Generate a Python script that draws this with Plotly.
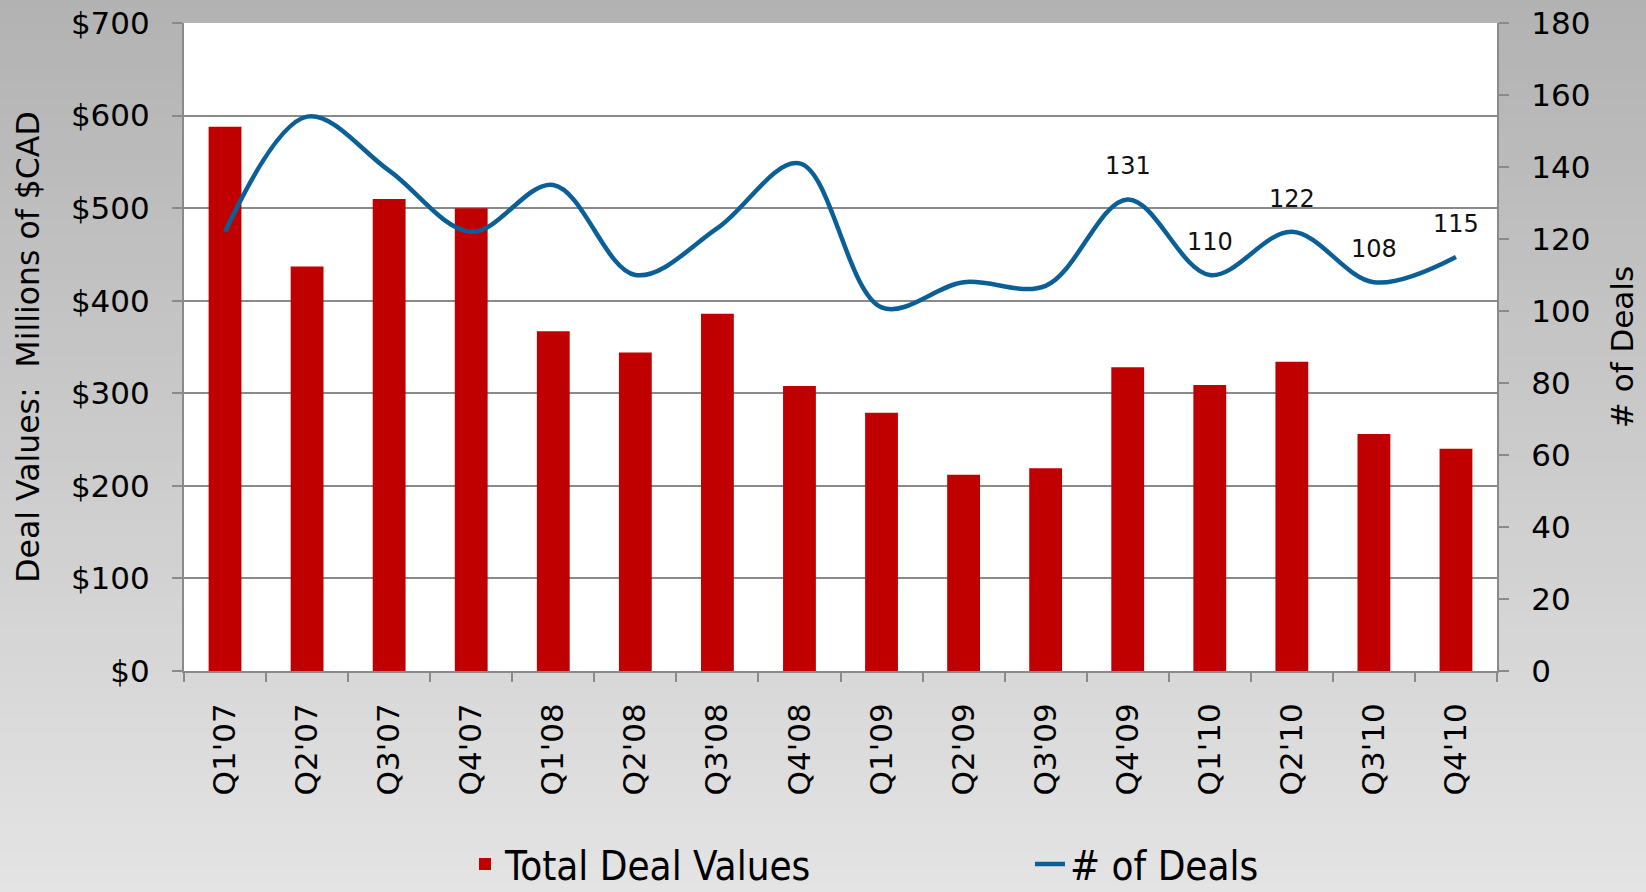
import plotly.graph_objects as go

quarters = ["Q1'07", "Q2'07", "Q3'07", "Q4'07", "Q1'08", "Q2'08", "Q3'08", "Q4'08",
            "Q1'09", "Q2'09", "Q3'09", "Q4'09", "Q1'10", "Q2'10", "Q3'10", "Q4'10"]
deal_values = [588, 437, 510, 500, 367, 344, 386, 308, 279, 212, 219, 328, 309, 334, 256, 240]
num_deals = [122, 154, 139, 122, 135, 110, 123, 141, 101, 108, 107, 131, 110, 122, 108, 115]
labelled_quarters = ["Q4'09", "Q1'10", "Q2'10", "Q3'10", "Q4'10"]

FONT = "DejaVu Sans, Verdana, sans-serif"
W, H = 1646, 892
ML, MR, MT, MB = 184, 149, 23, 221
pw, ph = W - ML - MR, H - MT - MB

fig = go.Figure()
fig.add_trace(go.Bar(x=quarters, y=deal_values, name="Total Deal Values",
                     marker=dict(color="#c00000", line=dict(width=0)), yaxis="y"))
fig.add_trace(go.Scatter(x=quarters, y=num_deals, name="# of Deals", mode="lines",
                         line=dict(color="#0b5f97", width=4.5, shape="spline", smoothing=1.0),
                         yaxis="y2"))

# data labels for the labelled quarters
for q in labelled_quarters:
    v = num_deals[quarters.index(q)]
    fig.add_annotation(x=q, y=v, xref="x", yref="y2", text=str(v), showarrow=False,
                       yanchor="middle", yshift=33, font=dict(family=FONT, size=24, color="#111"))

# background gradient bands (paper coordinates relative to plot area)
n = 60
x0p, x1p = -ML / pw - 0.01, (W - ML) / pw + 0.01
y_bottom, y_top = -MB / ph - 0.01, (H - MB) / ph + 0.01
c_top, c_bot = (178, 178, 178), (228, 228, 228)
for i in range(n):
    t = i / (n - 1)
    c = tuple(int(round(c_top[k] + (c_bot[k] - c_top[k]) * t)) for k in range(3))
    ya = y_top - (y_top - y_bottom) * i / n
    yb = y_top - (y_top - y_bottom) * (i + 1) / n
    fig.add_shape(type="rect", xref="paper", yref="paper", x0=x0p, x1=x1p, y0=yb - 0.002, y1=ya,
                  fillcolor="rgb(%d,%d,%d)" % c, line=dict(width=0), layer="below")
fig.add_shape(type="rect", xref="paper", yref="paper", x0=0, x1=1, y0=0, y1=1,
              fillcolor="white", line=dict(width=0), layer="below")

axis_gray = "#8a8a8a"
fig.update_layout(
    width=W, height=H,
    margin=dict(l=ML, r=MR, t=MT, b=MB, autoexpand=False),
    paper_bgcolor="#c8c8c8", plot_bgcolor="white",
    bargap=0.6,
    showlegend=True,
    legend=dict(orientation="h", x=0.214, xanchor="left", y=-0.298, yanchor="middle",
                bgcolor="rgba(0,0,0,0)", entrywidth=520,
                font=dict(family="Liberation Sans Narrow, DejaVu Sans Condensed, sans-serif",
                          size=40, color="#000")),
    xaxis=dict(tickangle=-90, tickson="boundaries", ticks="outside", ticklen=9, tickwidth=2,
               tickcolor=axis_gray, showline=True, linecolor=axis_gray, linewidth=2,
               showgrid=False, ticklabelstandoff=18, automargin=False,
               tickfont=dict(family=FONT, size=31, color="#000")),
    yaxis=dict(range=[0, 700], dtick=100, tickprefix="$", ticks="outside", ticklen=10,
               tickwidth=2, tickcolor=axis_gray, showline=True, linecolor=axis_gray, linewidth=2,
               showgrid=True, gridcolor=axis_gray, gridwidth=1.5, zeroline=False,
               ticklabelstandoff=16, automargin=False,
               tickfont=dict(family=FONT, size=31, color="#000"),
               title=dict(text="Deal Values:  Millions of $CAD", standoff=22,
                          font=dict(family=FONT, size=31.5, color="#000"))),
    yaxis2=dict(range=[0, 180], dtick=20, overlaying="y", side="right", ticks="outside",
                ticklen=10, tickwidth=2, tickcolor=axis_gray, showline=True,
                linecolor=axis_gray, linewidth=2, showgrid=False, zeroline=False,
                ticklabelstandoff=16, automargin=False,
                tickfont=dict(family=FONT, size=31, color="#000"),
                title=dict(text="# of Deals", standoff=22,
                           font=dict(family=FONT, size=31, color="#000"))),
)

fig.write_html("out.html", config={"displayModeBar": False},
               post_script="document.body.style.margin='0';document.body.style.overflow='hidden';")
